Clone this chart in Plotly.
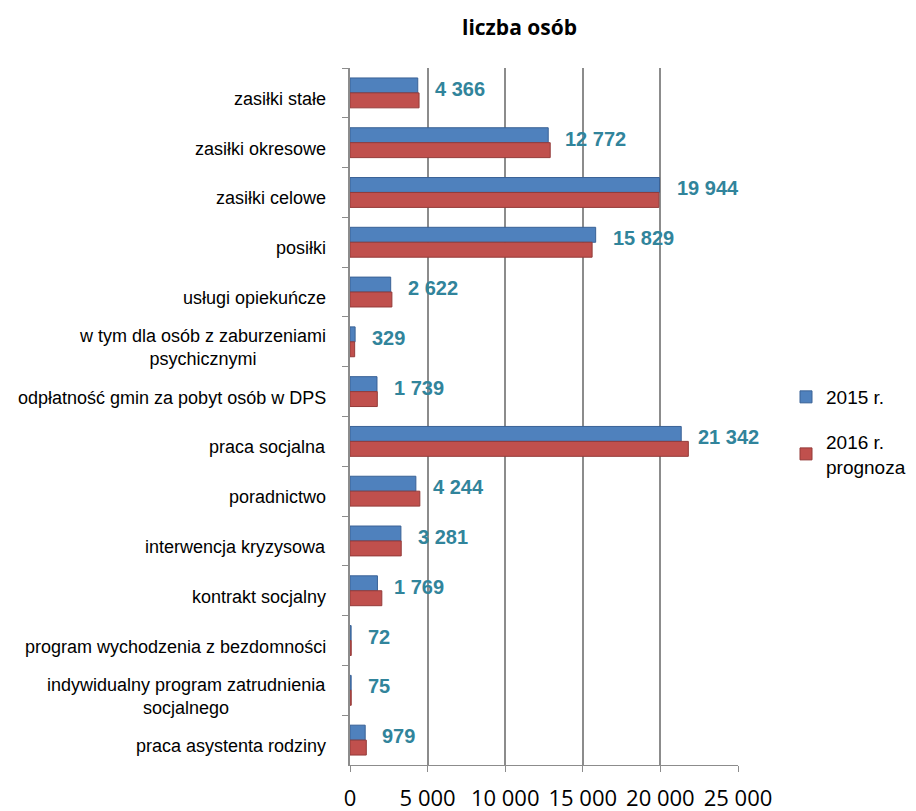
import plotly.graph_objects as go

categories = [
    "zasiłki stałe",
    "zasiłki okresowe",
    "zasiłki celowe",
    "posiłki",
    "usługi opiekuńcze",
    "w tym dla osób z zaburzeniami<br>psychicznymi",
    "odpłatność gmin za pobyt osób w DPS",
    "praca socjalna",
    "poradnictwo",
    "interwencja kryzysowa",
    "kontrakt socjalny",
    "program wychodzenia z bezdomności",
    "indywidualny program zatrudnienia<br>socjalnego",
    "praca asystenta rodziny",
]
values_2015 = [4366, 12772, 19944, 15829, 2622, 329, 1739, 21342, 4244, 3281, 1769, 72, 75, 979]
values_2016 = [4450, 12900, 19900, 15600, 2700, 300, 1760, 21800, 4500, 3300, 2050, 80, 80, 1050]
series_names = ["2015 r.", "2016 r.<br>prognoza"]
tick_values = [0, 5000, 10000, 15000, 20000, 25000]
tick_labels = ["0", "5 000", "10 000", "15 000", "20 000", "25 000"]
title_line1 = "Świadczenia w 2015 r. oraz według prognozy"
title_line2 = "liczba osób"

BLUE = "#4F81BD"
RED = "#C0504D"
TEAL = "#31849B"
GRID = "#8C8C8C"

# the page body adds an 8px offset, so the figure is 8px smaller than the window
W, H = 908, 803
ML, MR, MT, MB = 342, 178, 60, 46
PW = W - ML - MR
PH = H - MT - MB

fig = go.Figure()
fig.add_trace(go.Bar(
    y=categories, x=values_2015, orientation="h", name=series_names[0],
    marker=dict(color=BLUE, line=dict(color="#3A6296", width=1)),
    legendgroup="a", hoverinfo="x+y",
))
fig.add_trace(go.Bar(
    y=categories, x=values_2016, orientation="h", name=series_names[1],
    marker=dict(color=RED, line=dict(color="#943B39", width=1)),
    legendgroup="b", hoverinfo="x+y",
))

annotations = []
for cat, v in zip(categories, values_2015):
    annotations.append(dict(
        x=v, y=cat, xref="x", yref="y", xanchor="left", yanchor="middle",
        xshift=15, yshift=4, showarrow=False,
        text=f"{v:,}".replace(",", " "),
        font=dict(family="Liberation Sans, Arial", size=20, color=TEAL, weight="bold"),
    ))
for cat in categories:
    annotations.append(dict(
        x=0, y=cat, xref="paper", yref="y", xanchor="right", yanchor="middle",
        xshift=-22, yshift=-6, showarrow=False, align="center",
        text=cat,
        font=dict(family="Liberation Sans, Arial", size=18, color="#000000"),
    ))
annotations.append(dict(
    x=(511 - ML) / PW, y=1 + (MT - 19) / PH, xref="paper", yref="paper",
    xanchor="center", yanchor="middle", showarrow=False, text=title_line2,
    font=dict(family="Open Sans", size=21, color="#000000", weight="bold"),
))
annotations.append(dict(
    x=(484 - ML) / PW, y=1 + (MT + 1) / PH, xref="paper", yref="paper",
    xanchor="right", yanchor="bottom", showarrow=False, text=title_line1,
    font=dict(family="Open Sans", size=21, color="#000000", weight="bold"),
))

fig.update_layout(
    width=W, height=H,
    margin=dict(l=ML, r=MR, t=MT, b=MB, autoexpand=False),
    paper_bgcolor="white", plot_bgcolor="white",
    barmode="group", bargap=0.4, bargroupgap=0,
    font=dict(family="Liberation Sans, Arial", color="#000000"),
    showlegend=True,
    legend=dict(
        x=(778 - ML) / PW, y=1 - (378 - 8 - MT) / PH, xanchor="left", yanchor="top",
        font=dict(family="Liberation Sans, Arial", size=19, color="#000000"),
        tracegroupgap=17, bgcolor="rgba(0,0,0,0)",
    ),
    annotations=annotations,
    xaxis=dict(
        range=[0, 25000], tickvals=tick_values, ticktext=tick_labels,
        showgrid=True, gridcolor=GRID, gridwidth=2,
        zeroline=False, showline=True, linecolor=GRID, linewidth=1,
        ticks="outside", ticklen=6, tickcolor=GRID,
        tickfont=dict(family="Open Sans", size=22, color="#000000"),
        ticklabelstandoff=8, automargin=False,
    ),
    yaxis=dict(
        type="category", autorange="reversed",
        showticklabels=False, showgrid=False, zeroline=False,
        showline=True, linecolor=GRID, linewidth=2,
        ticks="outside", tickson="boundaries", ticklen=6, tickcolor=GRID,
        automargin=False,
    ),
)

fig.write_html("out.html")
